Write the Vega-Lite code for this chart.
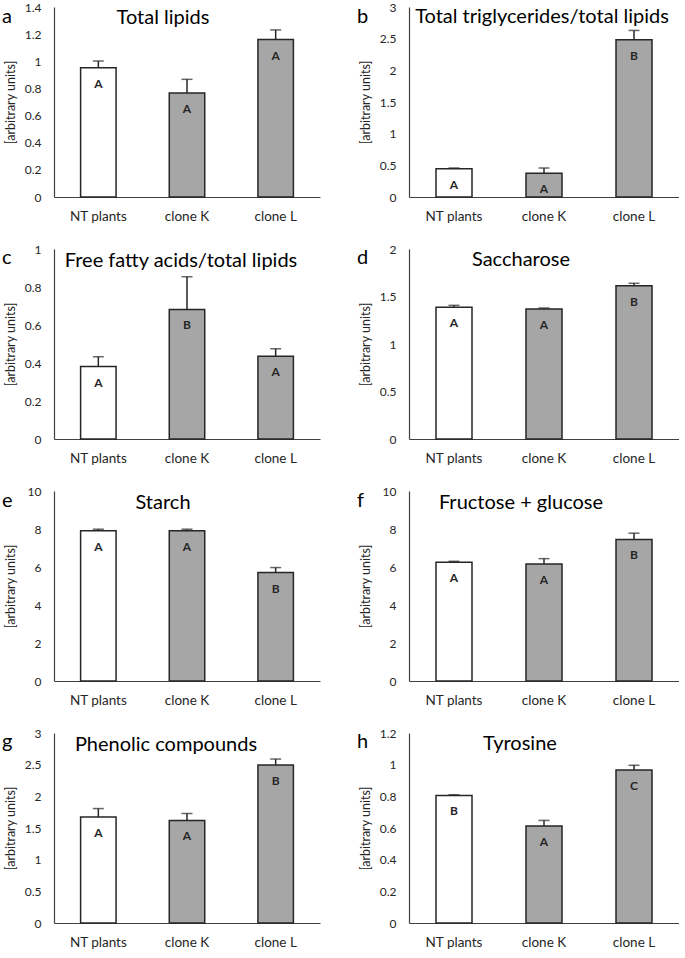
{
 "$schema": "https://vega.github.io/schema/vega-lite/v6.json",
 "padding": {"left": 2, "top": 1, "right": 0, "bottom": 0},
 "background": "white",
 "datasets": {
  "d": [
   {"panel": "a", "group": "NT plants", "value": 0.953, "upper": 1.002, "letter": "A"},
   {"panel": "a", "group": "clone K", "value": 0.767, "upper": 0.867, "letter": "A"},
   {"panel": "a", "group": "clone L", "value": 1.16, "upper": 1.231, "letter": "A"},
   {"panel": "b", "group": "NT plants", "value": 0.447, "upper": 0.458, "letter": "A"},
   {"panel": "b", "group": "clone K", "value": 0.374, "upper": 0.458, "letter": "A"},
   {"panel": "b", "group": "clone L", "value": 2.484, "upper": 2.63, "letter": "B"},
   {"panel": "c", "group": "NT plants", "value": 0.381, "upper": 0.433, "letter": "A"},
   {"panel": "c", "group": "clone K", "value": 0.682, "upper": 0.854, "letter": "B"},
   {"panel": "c", "group": "clone L", "value": 0.435, "upper": 0.475, "letter": "A"},
   {"panel": "d", "group": "NT plants", "value": 1.386, "upper": 1.407, "letter": "A"},
   {"panel": "d", "group": "clone K", "value": 1.368, "upper": 1.379, "letter": "A"},
   {"panel": "d", "group": "clone L", "value": 1.614, "upper": 1.639, "letter": "B"},
   {"panel": "e", "group": "NT plants", "value": 7.91, "upper": 7.99, "letter": "A"},
   {"panel": "e", "group": "clone K", "value": 7.91, "upper": 7.99, "letter": "A"},
   {"panel": "e", "group": "clone L", "value": 5.71, "upper": 5.97, "letter": "B"},
   {"panel": "f", "group": "NT plants", "value": 6.25, "upper": 6.3, "letter": "A"},
   {"panel": "f", "group": "clone K", "value": 6.16, "upper": 6.44, "letter": "A"},
   {"panel": "f", "group": "clone L", "value": 7.45, "upper": 7.78, "letter": "B"},
   {"panel": "g", "group": "NT plants", "value": 1.672, "upper": 1.807, "letter": "A"},
   {"panel": "g", "group": "clone K", "value": 1.62, "upper": 1.729, "letter": "A"},
   {"panel": "g", "group": "clone L", "value": 2.495, "upper": 2.589, "letter": "B"},
   {"panel": "h", "group": "NT plants", "value": 0.806, "upper": 0.81, "letter": "B"},
   {"panel": "h", "group": "clone K", "value": 0.613, "upper": 0.648, "letter": "A"},
   {"panel": "h", "group": "clone L", "value": 0.967, "upper": 0.996, "letter": "C"}
  ]
 },
 "columns": 2,
 "spacing": {"row": 20, "column": 37},
 "config": {
  "font": "Lato",
  "view": {"stroke": null},
  "axis": {"grid": false, "ticks": false, "domainColor": "#404040", "domainWidth": 1.2, "labelColor": "#262626", "labelFont": "Lato", "titleFont": "Lato", "titleFontWeight": "normal", "titleColor": "#262626"},
  "axisY": {"labelFontSize": 12, "labelPadding": 13, "minExtent": 34, "maxExtent": 34, "titleFontSize": 12.5, "titlePadding": 3},
  "axisX": {"labelFontSize": 13.5, "labelPadding": 12, "labelAngle": 0},
  "title": {"font": "Lato", "fontWeight": "normal", "color": "#000000", "baseline": "alphabetic"},
  "bar": {"stroke": "#262626", "strokeWidth": 1.5}
 },
 "concat": [
  {
   "title": {"text": "a", "anchor": "start", "frame": "bounds", "offset": -26, "dx": -2, "fontSize": 20},
   "vconcat": [{
    "width": 266, "height": 190,
    "title": {"text": "Total lipids", "anchor": "middle", "frame": "group", "offset": -27, "dx": -24, "fontSize": 20},
    "data": {"name": "d"},
    "transform": [{"filter": "datum.panel === 'a'"}],
    "encoding": {"x": {"field": "group", "type": "nominal", "sort": ["NT plants", "clone K", "clone L"], "title": null, "scale": {"paddingInner": 0.6, "paddingOuter": 0.3}}},
    "layer": [
     {"mark": "bar", "encoding": {"y": {"field": "value", "type": "quantitative", "scale": {"domain": [0, 1.4], "nice": false}, "axis": {"values": [0, 0.2, 0.4, 0.6, 0.8, 1, 1.2, 1.4], "format": ".1~f", "title": "[arbitrary units]"}}, "fill": {"field": "group", "type": "nominal", "scale": {"domain": ["NT plants", "clone K", "clone L"], "range": ["#ffffff", "#a6a6a6", "#a6a6a6"]}, "legend": null}}},
     {"mark": {"type": "rule", "color": "#262626", "strokeWidth": 1.5}, "encoding": {"y": {"field": "value", "type": "quantitative", "scale": {"domain": [0, 1.4], "nice": false}, "axis": {"values": [0, 0.2, 0.4, 0.6, 0.8, 1, 1.2, 1.4], "format": ".1~f", "title": "[arbitrary units]"}}, "y2": {"field": "upper"}}},
     {"mark": {"type": "tick", "color": "#262626", "thickness": 1.5, "size": 11, "orient": "horizontal"}, "encoding": {"y": {"field": "upper", "type": "quantitative", "scale": {"domain": [0, 1.4], "nice": false}, "axis": {"values": [0, 0.2, 0.4, 0.6, 0.8, 1, 1.2, 1.4], "format": ".1~f", "title": "[arbitrary units]"}}}},
     {"mark": {"type": "text", "dy": 16, "fontSize": 12, "fontWeight": "bold", "color": "#262626", "baseline": "middle"}, "encoding": {"y": {"field": "value", "type": "quantitative", "scale": {"domain": [0, 1.4], "nice": false}, "axis": {"values": [0, 0.2, 0.4, 0.6, 0.8, 1, 1.2, 1.4], "format": ".1~f", "title": "[arbitrary units]"}}, "text": {"field": "letter"}}}
    ]
   }]
  },
  {
   "title": {"text": "b", "anchor": "start", "frame": "bounds", "offset": -26, "dx": -2, "fontSize": 20},
   "vconcat": [{
    "width": 270, "height": 190,
    "title": {"text": "Total triglycerides/total lipids", "anchor": "middle", "frame": "group", "offset": -26, "dx": -2, "fontSize": 20},
    "data": {"name": "d"},
    "transform": [{"filter": "datum.panel === 'b'"}],
    "encoding": {"x": {"field": "group", "type": "nominal", "sort": ["NT plants", "clone K", "clone L"], "title": null, "scale": {"paddingInner": 0.6, "paddingOuter": 0.3}}},
    "layer": [
     {"mark": "bar", "encoding": {"y": {"field": "value", "type": "quantitative", "scale": {"domain": [0, 3], "nice": false}, "axis": {"values": [0, 0.5, 1, 1.5, 2, 2.5, 3], "format": ".1~f", "title": "[arbitrary units]"}}, "fill": {"field": "group", "type": "nominal", "scale": {"domain": ["NT plants", "clone K", "clone L"], "range": ["#ffffff", "#a6a6a6", "#a6a6a6"]}, "legend": null}}},
     {"mark": {"type": "rule", "color": "#262626", "strokeWidth": 1.5}, "encoding": {"y": {"field": "value", "type": "quantitative", "scale": {"domain": [0, 3], "nice": false}, "axis": {"values": [0, 0.5, 1, 1.5, 2, 2.5, 3], "format": ".1~f", "title": "[arbitrary units]"}}, "y2": {"field": "upper"}}},
     {"mark": {"type": "tick", "color": "#262626", "thickness": 1.5, "size": 11, "orient": "horizontal"}, "encoding": {"y": {"field": "upper", "type": "quantitative", "scale": {"domain": [0, 3], "nice": false}, "axis": {"values": [0, 0.5, 1, 1.5, 2, 2.5, 3], "format": ".1~f", "title": "[arbitrary units]"}}}},
     {"mark": {"type": "text", "dy": 16, "fontSize": 12, "fontWeight": "bold", "color": "#262626", "baseline": "middle"}, "encoding": {"y": {"field": "value", "type": "quantitative", "scale": {"domain": [0, 3], "nice": false}, "axis": {"values": [0, 0.5, 1, 1.5, 2, 2.5, 3], "format": ".1~f", "title": "[arbitrary units]"}}, "text": {"field": "letter"}}}
    ]
   }]
  },
  {
   "title": {"text": "c", "anchor": "start", "frame": "bounds", "offset": -25, "dx": -2, "fontSize": 20},
   "vconcat": [{
    "width": 266, "height": 190,
    "title": {"text": "Free fatty acids/total lipids", "anchor": "middle", "frame": "group", "offset": -28, "dx": -6, "fontSize": 20},
    "data": {"name": "d"},
    "transform": [{"filter": "datum.panel === 'c'"}],
    "encoding": {"x": {"field": "group", "type": "nominal", "sort": ["NT plants", "clone K", "clone L"], "title": null, "scale": {"paddingInner": 0.6, "paddingOuter": 0.3}}},
    "layer": [
     {"mark": "bar", "encoding": {"y": {"field": "value", "type": "quantitative", "scale": {"domain": [0, 1], "nice": false}, "axis": {"values": [0, 0.2, 0.4, 0.6, 0.8, 1], "format": ".1~f", "title": "[arbitrary units]"}}, "fill": {"field": "group", "type": "nominal", "scale": {"domain": ["NT plants", "clone K", "clone L"], "range": ["#ffffff", "#a6a6a6", "#a6a6a6"]}, "legend": null}}},
     {"mark": {"type": "rule", "color": "#262626", "strokeWidth": 1.5}, "encoding": {"y": {"field": "value", "type": "quantitative", "scale": {"domain": [0, 1], "nice": false}, "axis": {"values": [0, 0.2, 0.4, 0.6, 0.8, 1], "format": ".1~f", "title": "[arbitrary units]"}}, "y2": {"field": "upper"}}},
     {"mark": {"type": "tick", "color": "#262626", "thickness": 1.5, "size": 11, "orient": "horizontal"}, "encoding": {"y": {"field": "upper", "type": "quantitative", "scale": {"domain": [0, 1], "nice": false}, "axis": {"values": [0, 0.2, 0.4, 0.6, 0.8, 1], "format": ".1~f", "title": "[arbitrary units]"}}}},
     {"mark": {"type": "text", "dy": 16, "fontSize": 12, "fontWeight": "bold", "color": "#262626", "baseline": "middle"}, "encoding": {"y": {"field": "value", "type": "quantitative", "scale": {"domain": [0, 1], "nice": false}, "axis": {"values": [0, 0.2, 0.4, 0.6, 0.8, 1], "format": ".1~f", "title": "[arbitrary units]"}}, "text": {"field": "letter"}}}
    ]
   }]
  },
  {
   "title": {"text": "d", "anchor": "start", "frame": "bounds", "offset": -25, "dx": -2, "fontSize": 20},
   "vconcat": [{
    "width": 270, "height": 190,
    "title": {"text": "Saccharose", "anchor": "middle", "frame": "group", "offset": -27, "dx": -23, "fontSize": 20},
    "data": {"name": "d"},
    "transform": [{"filter": "datum.panel === 'd'"}],
    "encoding": {"x": {"field": "group", "type": "nominal", "sort": ["NT plants", "clone K", "clone L"], "title": null, "scale": {"paddingInner": 0.6, "paddingOuter": 0.3}}},
    "layer": [
     {"mark": "bar", "encoding": {"y": {"field": "value", "type": "quantitative", "scale": {"domain": [0, 2], "nice": false}, "axis": {"values": [0, 0.5, 1, 1.5, 2], "format": ".1~f", "title": "[arbitrary units]"}}, "fill": {"field": "group", "type": "nominal", "scale": {"domain": ["NT plants", "clone K", "clone L"], "range": ["#ffffff", "#a6a6a6", "#a6a6a6"]}, "legend": null}}},
     {"mark": {"type": "rule", "color": "#262626", "strokeWidth": 1.5}, "encoding": {"y": {"field": "value", "type": "quantitative", "scale": {"domain": [0, 2], "nice": false}, "axis": {"values": [0, 0.5, 1, 1.5, 2], "format": ".1~f", "title": "[arbitrary units]"}}, "y2": {"field": "upper"}}},
     {"mark": {"type": "tick", "color": "#262626", "thickness": 1.5, "size": 11, "orient": "horizontal"}, "encoding": {"y": {"field": "upper", "type": "quantitative", "scale": {"domain": [0, 2], "nice": false}, "axis": {"values": [0, 0.5, 1, 1.5, 2], "format": ".1~f", "title": "[arbitrary units]"}}}},
     {"mark": {"type": "text", "dy": 16, "fontSize": 12, "fontWeight": "bold", "color": "#262626", "baseline": "middle"}, "encoding": {"y": {"field": "value", "type": "quantitative", "scale": {"domain": [0, 2], "nice": false}, "axis": {"values": [0, 0.5, 1, 1.5, 2], "format": ".1~f", "title": "[arbitrary units]"}}, "text": {"field": "letter"}}}
    ]
   }]
  },
  {
   "title": {"text": "e", "anchor": "start", "frame": "bounds", "offset": -26, "dx": -2, "fontSize": 20},
   "vconcat": [{
    "width": 266, "height": 190,
    "title": {"text": "Starch", "anchor": "middle", "frame": "group", "offset": -28, "dx": -24, "fontSize": 20},
    "data": {"name": "d"},
    "transform": [{"filter": "datum.panel === 'e'"}],
    "encoding": {"x": {"field": "group", "type": "nominal", "sort": ["NT plants", "clone K", "clone L"], "title": null, "scale": {"paddingInner": 0.6, "paddingOuter": 0.3}}},
    "layer": [
     {"mark": "bar", "encoding": {"y": {"field": "value", "type": "quantitative", "scale": {"domain": [0, 10], "nice": false}, "axis": {"values": [0, 2, 4, 6, 8, 10], "format": ".1~f", "title": "[arbitrary units]"}}, "fill": {"field": "group", "type": "nominal", "scale": {"domain": ["NT plants", "clone K", "clone L"], "range": ["#ffffff", "#a6a6a6", "#a6a6a6"]}, "legend": null}}},
     {"mark": {"type": "rule", "color": "#262626", "strokeWidth": 1.5}, "encoding": {"y": {"field": "value", "type": "quantitative", "scale": {"domain": [0, 10], "nice": false}, "axis": {"values": [0, 2, 4, 6, 8, 10], "format": ".1~f", "title": "[arbitrary units]"}}, "y2": {"field": "upper"}}},
     {"mark": {"type": "tick", "color": "#262626", "thickness": 1.5, "size": 11, "orient": "horizontal"}, "encoding": {"y": {"field": "upper", "type": "quantitative", "scale": {"domain": [0, 10], "nice": false}, "axis": {"values": [0, 2, 4, 6, 8, 10], "format": ".1~f", "title": "[arbitrary units]"}}}},
     {"mark": {"type": "text", "dy": 16, "fontSize": 12, "fontWeight": "bold", "color": "#262626", "baseline": "middle"}, "encoding": {"y": {"field": "value", "type": "quantitative", "scale": {"domain": [0, 10], "nice": false}, "axis": {"values": [0, 2, 4, 6, 8, 10], "format": ".1~f", "title": "[arbitrary units]"}}, "text": {"field": "letter"}}}
    ]
   }]
  },
  {
   "title": {"text": "f", "anchor": "start", "frame": "bounds", "offset": -26, "dx": -2, "fontSize": 20},
   "vconcat": [{
    "width": 270, "height": 190,
    "title": {"text": "Fructose + glucose", "anchor": "middle", "frame": "group", "offset": -28, "dx": -23, "fontSize": 20},
    "data": {"name": "d"},
    "transform": [{"filter": "datum.panel === 'f'"}],
    "encoding": {"x": {"field": "group", "type": "nominal", "sort": ["NT plants", "clone K", "clone L"], "title": null, "scale": {"paddingInner": 0.6, "paddingOuter": 0.3}}},
    "layer": [
     {"mark": "bar", "encoding": {"y": {"field": "value", "type": "quantitative", "scale": {"domain": [0, 10], "nice": false}, "axis": {"values": [0, 2, 4, 6, 8, 10], "format": ".1~f", "title": "[arbitrary units]"}}, "fill": {"field": "group", "type": "nominal", "scale": {"domain": ["NT plants", "clone K", "clone L"], "range": ["#ffffff", "#a6a6a6", "#a6a6a6"]}, "legend": null}}},
     {"mark": {"type": "rule", "color": "#262626", "strokeWidth": 1.5}, "encoding": {"y": {"field": "value", "type": "quantitative", "scale": {"domain": [0, 10], "nice": false}, "axis": {"values": [0, 2, 4, 6, 8, 10], "format": ".1~f", "title": "[arbitrary units]"}}, "y2": {"field": "upper"}}},
     {"mark": {"type": "tick", "color": "#262626", "thickness": 1.5, "size": 11, "orient": "horizontal"}, "encoding": {"y": {"field": "upper", "type": "quantitative", "scale": {"domain": [0, 10], "nice": false}, "axis": {"values": [0, 2, 4, 6, 8, 10], "format": ".1~f", "title": "[arbitrary units]"}}}},
     {"mark": {"type": "text", "dy": 16, "fontSize": 12, "fontWeight": "bold", "color": "#262626", "baseline": "middle"}, "encoding": {"y": {"field": "value", "type": "quantitative", "scale": {"domain": [0, 10], "nice": false}, "axis": {"values": [0, 2, 4, 6, 8, 10], "format": ".1~f", "title": "[arbitrary units]"}}, "text": {"field": "letter"}}}
    ]
   }]
  },
  {
   "title": {"text": "g", "anchor": "start", "frame": "bounds", "offset": -25, "dx": -2, "fontSize": 20},
   "vconcat": [{
    "width": 266, "height": 190,
    "title": {"text": "Phenolic compounds", "anchor": "middle", "frame": "group", "offset": -28, "dx": -21, "fontSize": 20},
    "data": {"name": "d"},
    "transform": [{"filter": "datum.panel === 'g'"}],
    "encoding": {"x": {"field": "group", "type": "nominal", "sort": ["NT plants", "clone K", "clone L"], "title": null, "scale": {"paddingInner": 0.6, "paddingOuter": 0.3}}},
    "layer": [
     {"mark": "bar", "encoding": {"y": {"field": "value", "type": "quantitative", "scale": {"domain": [0, 3], "nice": false}, "axis": {"values": [0, 0.5, 1, 1.5, 2, 2.5, 3], "format": ".1~f", "title": "[arbitrary units]"}}, "fill": {"field": "group", "type": "nominal", "scale": {"domain": ["NT plants", "clone K", "clone L"], "range": ["#ffffff", "#a6a6a6", "#a6a6a6"]}, "legend": null}}},
     {"mark": {"type": "rule", "color": "#262626", "strokeWidth": 1.5}, "encoding": {"y": {"field": "value", "type": "quantitative", "scale": {"domain": [0, 3], "nice": false}, "axis": {"values": [0, 0.5, 1, 1.5, 2, 2.5, 3], "format": ".1~f", "title": "[arbitrary units]"}}, "y2": {"field": "upper"}}},
     {"mark": {"type": "tick", "color": "#262626", "thickness": 1.5, "size": 11, "orient": "horizontal"}, "encoding": {"y": {"field": "upper", "type": "quantitative", "scale": {"domain": [0, 3], "nice": false}, "axis": {"values": [0, 0.5, 1, 1.5, 2, 2.5, 3], "format": ".1~f", "title": "[arbitrary units]"}}}},
     {"mark": {"type": "text", "dy": 16, "fontSize": 12, "fontWeight": "bold", "color": "#262626", "baseline": "middle"}, "encoding": {"y": {"field": "value", "type": "quantitative", "scale": {"domain": [0, 3], "nice": false}, "axis": {"values": [0, 0.5, 1, 1.5, 2, 2.5, 3], "format": ".1~f", "title": "[arbitrary units]"}}, "text": {"field": "letter"}}}
    ]
   }]
  },
  {
   "title": {"text": "h", "anchor": "start", "frame": "bounds", "offset": -25, "dx": -2, "fontSize": 20},
   "vconcat": [{
    "width": 270, "height": 190,
    "title": {"text": "Tyrosine", "anchor": "middle", "frame": "group", "offset": -27, "dx": -24, "fontSize": 20},
    "data": {"name": "d"},
    "transform": [{"filter": "datum.panel === 'h'"}],
    "encoding": {"x": {"field": "group", "type": "nominal", "sort": ["NT plants", "clone K", "clone L"], "title": null, "scale": {"paddingInner": 0.6, "paddingOuter": 0.3}}},
    "layer": [
     {"mark": "bar", "encoding": {"y": {"field": "value", "type": "quantitative", "scale": {"domain": [0, 1.2], "nice": false}, "axis": {"values": [0, 0.2, 0.4, 0.6, 0.8, 1, 1.2], "format": ".1~f", "title": "[arbitrary units]"}}, "fill": {"field": "group", "type": "nominal", "scale": {"domain": ["NT plants", "clone K", "clone L"], "range": ["#ffffff", "#a6a6a6", "#a6a6a6"]}, "legend": null}}},
     {"mark": {"type": "rule", "color": "#262626", "strokeWidth": 1.5}, "encoding": {"y": {"field": "value", "type": "quantitative", "scale": {"domain": [0, 1.2], "nice": false}, "axis": {"values": [0, 0.2, 0.4, 0.6, 0.8, 1, 1.2], "format": ".1~f", "title": "[arbitrary units]"}}, "y2": {"field": "upper"}}},
     {"mark": {"type": "tick", "color": "#262626", "thickness": 1.5, "size": 11, "orient": "horizontal"}, "encoding": {"y": {"field": "upper", "type": "quantitative", "scale": {"domain": [0, 1.2], "nice": false}, "axis": {"values": [0, 0.2, 0.4, 0.6, 0.8, 1, 1.2], "format": ".1~f", "title": "[arbitrary units]"}}}},
     {"mark": {"type": "text", "dy": 16, "fontSize": 12, "fontWeight": "bold", "color": "#262626", "baseline": "middle"}, "encoding": {"y": {"field": "value", "type": "quantitative", "scale": {"domain": [0, 1.2], "nice": false}, "axis": {"values": [0, 0.2, 0.4, 0.6, 0.8, 1, 1.2], "format": ".1~f", "title": "[arbitrary units]"}}, "text": {"field": "letter"}}}
    ]
   }]
  }
 ]
}
